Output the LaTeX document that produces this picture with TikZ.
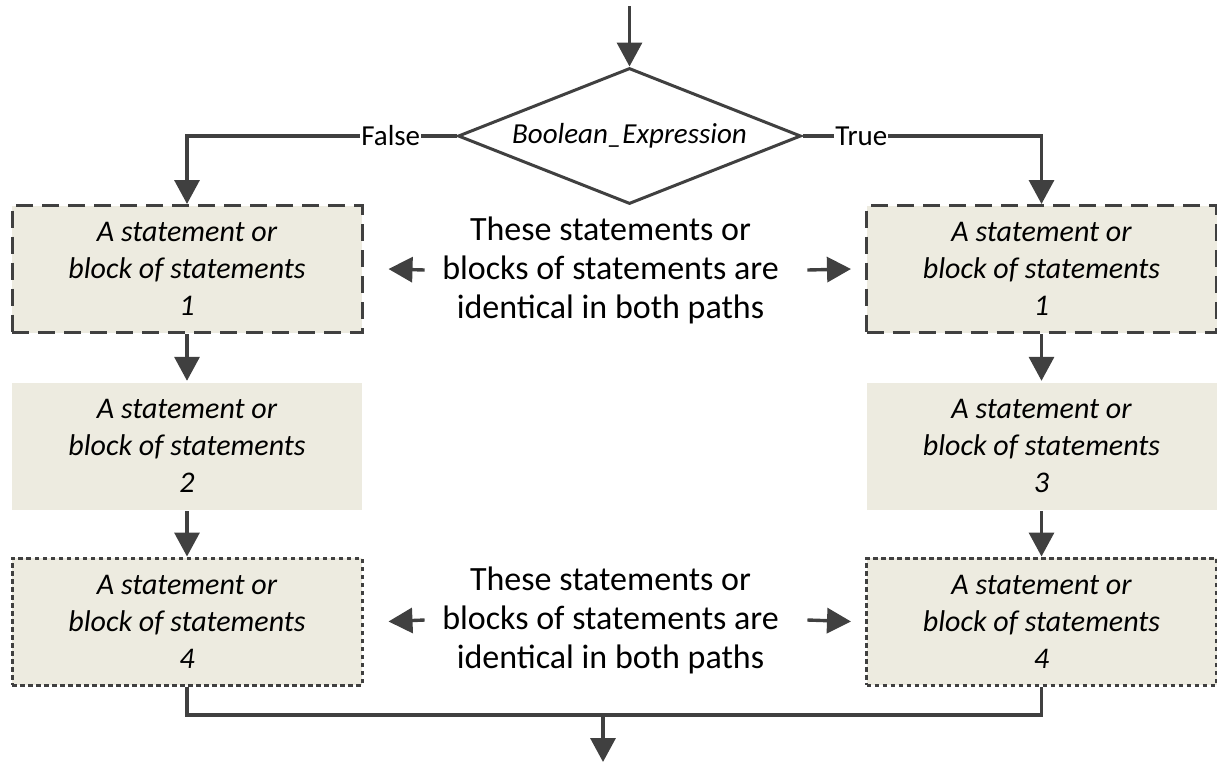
\documentclass[tikz,border=0pt]{standalone}
\usepackage{fontspec}
\setmainfont{Carlito}
\usetikzlibrary{arrows.meta,shapes.geometric}
\definecolor{ink}{HTML}{404040}
\definecolor{boxfill}{HTML}{EDEBE0}
\begin{document}
\begin{tikzpicture}[x=1pt,y=-1pt,
  line width=3.4pt,
  arr/.style={draw=ink,-{Triangle[length=24pt,width=25pt]}},
  wire/.style={draw=ink},
  stmt/.style={rectangle,fill=boxfill,minimum width=350pt,minimum height=127pt,
    align=center,inner sep=0pt,text=black,font=\itshape\fontsize{30}{37}\selectfont},
  dashbox/.style={stmt,draw=ink,line width=3pt,dash pattern=on 17pt off 9pt},
  dotbox/.style={stmt,draw=ink,line width=3pt,dash pattern=on 4.5pt off 3.5pt},
  note/.style={align=center,inner sep=0pt,font=\fontsize{34}{39}\selectfont},
  tag/.style={fill=white,inner sep=1pt,font=\fontsize{29}{34}\selectfont}]
\useasboundingbox (0,0) rectangle (1217,766);

% decision
\node[diamond,aspect=2.52,draw=ink,line width=3pt,minimum width=343pt,minimum height=136pt,
  inner sep=0pt,font=\itshape\fontsize{29}{34}\selectfont] (dec) at (629.5,136) {Boolean\_Expression};
\coordinate (start) at (629.5,6);
\draw[arr] (start) -- (dec.north);

% False path
\node[dashbox] (L1) at (187,269) {A statement or\\block of statements\\1};
\node[stmt]    (L2) at (187,446) {A statement or\\block of statements\\2};
\node[dotbox]  (L4) at (187,621.5) {A statement or\\block of statements\\4};

% True path
\node[dashbox] (R1) at (1041.5,269) {A statement or\\block of statements\\1};
\node[stmt]    (R3) at (1041.5,446) {A statement or\\block of statements\\3};
\node[dotbox]  (R4) at (1041.5,621.5) {A statement or\\block of statements\\4};

\draw[arr] (dec.west) -| node[tag,pos=0.122] (F) {False} (L1.north);
\draw[arr] (dec.east) -| node[tag,pos=0.123] (T) {True} (R1.north);

\draw[arr] (L1) -- (L2);
\draw[arr] (L2) -- (L4);
\draw[arr] (R1) -- (R3);
\draw[arr] (R3) -- (R4);

% merge
\coordinate (join) at (603,715);
\coordinate (exit) at (603,762);
\draw[wire] (L4.south) |- (R4.south |- join) -- (R4.south);
\draw[arr] (join) -- (exit);

% remarks
\node[note] (n1) at (610.5,270) {These statements or\\blocks of statements are\\identical in both paths};
\node[note] (n2) at (610.5,620) {These statements or\\blocks of statements are\\identical in both paths};
\draw[arr] ([xshift=-16pt]n1.west) -- ([xshift=25pt]L1.east);
\draw[arr] ([xshift=27pt]n1.east) -- ([xshift=-14pt]R1.west);
\draw[arr] ([xshift=-16pt]n2.west) -- ([xshift=25pt]L4.east);
\draw[arr] ([xshift=27pt]n2.east) -- ([xshift=-14pt]R4.west);
\end{tikzpicture}
\end{document}
